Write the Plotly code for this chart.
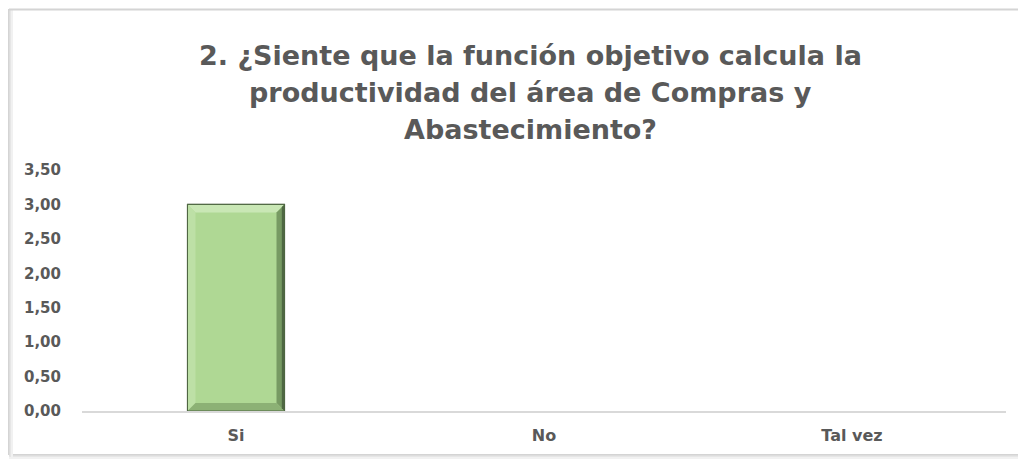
import plotly.graph_objects as go

# Survey answers and counts
categories = ["Si", "No", "Tal vez"]
counts = [3.0, 0.0, 0.0]
tick_values = [0, 0.5, 1.0, 1.5, 2.0, 2.5, 3.0, 3.5]
tick_labels = ["0,00", "0,50", "1,00", "1,50", "2,00", "2,50", "3,00", "3,50"]
title_lines = [
    "2. ¿Siente que la función objetivo calcula la",
    "productividad del área de Compras y",
    "Abastecimiento?",
]

W, H = 1018, 460
L, R, T, B = 82, 12, 170, 49
PW, PH = W - L - R, H - T - B
BAR_W = 0.315
Y_MAX = 3.5

TEXT = "#595959"
FONT = "DejaVu Sans"

fig = go.Figure()
fig.add_trace(go.Bar(
    x=categories,
    y=counts,
    width=BAR_W,
    marker=dict(
        color="#AFD894",
        line=dict(color="#4E6642", width=[1.2 if v > 0 else 0 for v in counts]),
    ),
    hoverinfo="x+y",
))


def px_x(v):
    return (v - L) / PW


def px_y(v):
    return (H - B - v) / PH


shapes = []

# bevelled edges on each bar, derived from the bar's value and width
bev_x = 8 / (PW / len(categories))
bev_y = 8 / (PH / Y_MAX)
for i, v in enumerate(counts):
    if v <= 0:
        continue
    x0, x1 = i - BAR_W / 2, i + BAR_W / 2
    y0, y1 = 0, v
    faces = [
        # top, left, right, bottom
        ([(x0, y1), (x1, y1), (x1 - bev_x, y1 - bev_y), (x0 + bev_x, y1 - bev_y)], "#C9E7B5"),
        ([(x0, y0), (x0, y1), (x0 + bev_x, y1 - bev_y), (x0 + bev_x, y0 + bev_y)], "#BDE0A6"),
        ([(x1, y0), (x1, y1), (x1 - bev_x, y1 - bev_y), (x1 - bev_x, y0 + bev_y)], "#779A63"),
        ([(x0, y0), (x1, y0), (x1 - bev_x, y0 + bev_y), (x0 + bev_x, y0 + bev_y)], "#8CB175"),
    ]
    for pts, col in faces:
        path = "M " + " L ".join(f"{px},{py}" for px, py in pts) + " Z"
        shapes.append(dict(type="path", xref="x", yref="y", path=path,
                           fillcolor=col, line=dict(width=0), layer="above"))
    # darker outer strip on the right-hand bevel
    shapes.append(dict(type="path", xref="x", yref="y",
                       path=f"M {x1},{y0} L {x1},{y1} L {x1 - bev_x / 3},{y1 - bev_y / 3} "
                            f"L {x1 - bev_x / 3},{y0 + bev_y / 3} Z",
                       fillcolor="#4F6843", line=dict(width=0), layer="above"))
    shapes.append(dict(type="rect", xref="x", yref="y", x0=x0, x1=x1, y0=y0, y1=y1,
                       line=dict(color="#4E6642", width=1), layer="above"))

# outer frame of the chart area with a soft shadow on the left/bottom
for off, col in [(0, "#D4D4D4"), (1.5, "#E6E6E6"), (3, "#F1F1F1")]:
    shapes.append(dict(type="line", xref="paper", yref="paper",
                       x0=px_x(9 + off), x1=px_x(9 + off), y0=px_y(9), y1=px_y(455 + off),
                       line=dict(color=col, width=2)))
    shapes.append(dict(type="line", xref="paper", yref="paper",
                       x0=px_x(9), x1=px_x(1030), y0=px_y(455 + off), y1=px_y(455 + off),
                       line=dict(color=col, width=2)))
shapes.append(dict(type="line", xref="paper", yref="paper",
                   x0=px_x(9), x1=px_x(1030), y0=px_y(9.5), y1=px_y(9.5),
                   line=dict(color="#D4D4D4", width=2)))

# title, one annotation per line for Excel-like line spacing
annotations = []
for k, line in enumerate(title_lines):
    annotations.append(dict(
        text=line, xref="paper", yref="paper", x=px_x(530), y=px_y(56 + 36.5 * k),
        xanchor="center", yanchor="middle", showarrow=False,
        font=dict(family=FONT, size=27, color=TEXT, weight="bold"),
    ))

fig.update_layout(
    width=W, height=H, autosize=False,
    margin=dict(l=L, r=R, t=T, b=B),
    paper_bgcolor="white", plot_bgcolor="white",
    showlegend=False,
    xaxis=dict(
        showgrid=False, showline=True, linecolor="#D9D9D9", linewidth=1.5,
        ticks="", tickfont=dict(family=FONT, size=16, color=TEXT, weight="bold"),
        ticklabelstandoff=9,
    ),
    yaxis=dict(
        range=[0, Y_MAX], tickvals=tick_values, ticktext=tick_labels,
        showgrid=False, showline=False, zeroline=False, ticks="",
        tickfont=dict(family=FONT, size=15, color=TEXT, weight="bold"),
        ticklabelstandoff=20,
    ),
    shapes=shapes,
    annotations=annotations,
)

fig.write_html("out.html")
